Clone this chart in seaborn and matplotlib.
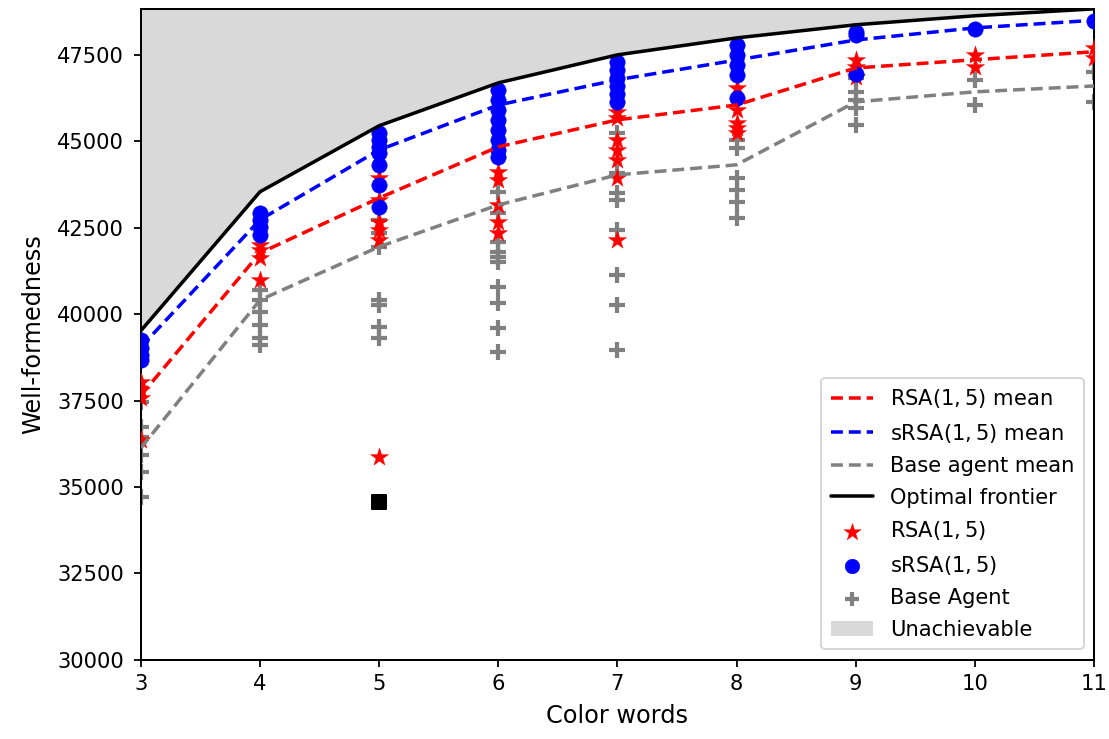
import numpy as np
import pandas as pd
import matplotlib
matplotlib.use("Agg")
import matplotlib.pyplot as plt
import seaborn as sns

# Number of colour words on the x axis
words = [3, 4, 5, 6, 7, 8, 9, 10, 11]

# Mean well-formedness per agent and the optimal frontier
rsa_mean = [37650, 41770, 43360, 44840, 45620, 46050, 47120, 47360, 47590]
srsa_mean = [39050, 42730, 44750, 46050, 46780, 47350, 47930, 48280, 48500]
base_mean = [36130, 40410, 41950, 43160, 44030, 44320, 46140, 46430, 46600]
frontier = [39520, 43540, 45450, 46690, 47500, 47990, 48370, 48630, 48830]

# Individual runs
rsa_x = [3, 3, 3, 3,
         4, 4, 4, 4,
         5, 5, 5, 5, 5, 5,
         6, 6, 6, 6, 6,
         7, 7, 7, 7, 7, 7, 7,
         8, 8, 8, 8, 8,
         9, 9, 9,
         10, 10,
         11, 11]
rsa_y = [38040, 37810, 37580, 36360,
         41990, 41860, 41630, 40990,
         43940, 43310, 42670, 42440, 42150, 35860,
         44120, 43890, 43160, 42670, 42350,
         45850, 45680, 45040, 44750, 44460, 43940, 42150,
         46550, 45910, 45530, 45390, 45240,
         47360, 47150, 46860,
         47500, 47150,
         47700, 47410]

srsa_x = [3, 3, 3, 3,
          4, 4, 4, 4,
          5, 5, 5, 5, 5, 5, 5,
          6, 6, 6, 6, 6, 6, 6, 6,
          7, 7, 7, 7, 7, 7,
          8, 8, 8, 8, 8,
          9, 9, 9,
          10,
          11]
srsa_y = [39260, 39030, 38820, 38680,
          42930, 42730, 42530, 42290,
          45240, 45040, 44840, 44670, 44320, 43740, 43100,
          46490, 46200, 45910, 45620, 45330, 45040, 44750, 44550,
          47300, 47070, 46840, 46600, 46370, 46140,
          47790, 47500, 47210, 46920, 46260,
          48170, 48080, 46950,
          48250,
          48480]

base_x = [3, 3, 3, 3, 3, 3,
          4, 4, 4, 4, 4, 4,
          5, 5, 5, 5, 5, 5, 5,
          6, 6, 6, 6, 6, 6, 6, 6, 6, 6,
          7, 7, 7, 7, 7, 7, 7, 7,
          8, 8, 8, 8, 8, 8,
          9, 9, 9, 9, 9,
          10, 10,
          11, 11]
base_y = [37460, 36740, 36450, 35930, 35440, 34720,
          40700, 40410, 40070, 39690, 39310, 39110,
          42730, 42350, 41950, 40410, 40270, 39630, 39310,
          43540, 42930, 42090, 41800, 41660, 41510, 40790, 40330, 39600, 38910,
          45240, 44090, 43510, 43310, 42440, 41140, 40270, 38970,
          45040, 44810, 43940, 43600, 43250, 42790,
          46840, 46430, 46200, 45970, 45480,
          46780, 46050,
          47010, 46140]

# Single reference point
ref_x = [5]
ref_y = [34570]

sns.set_style("ticks")
plt.rcParams.update({
    "font.family": ["DejaVu Sans"],
    "mathtext.fontset": "dejavusans",
    "text.color": "black",
    "axes.labelcolor": "black",
    "axes.edgecolor": "black",
    "xtick.color": "black",
    "ytick.color": "black",
})

fig = plt.figure(figsize=(1109 / 144, 739 / 144), dpi=144)
ax = fig.add_axes([0.127, 0.107, 0.8595, 0.881])

top = 48830
ax.fill_between(words, frontier, top, color="#d9d9d9", linewidth=0,
                label="Unachievable", zorder=0)

base_df = pd.DataFrame({"x": base_x, "y": base_y})
rsa_df = pd.DataFrame({"x": rsa_x, "y": rsa_y})
srsa_df = pd.DataFrame({"x": srsa_x, "y": srsa_y})

ax.scatter(base_df["x"], base_df["y"], marker="+", s=58, linewidths=2.1,
           color="gray", label="Base Agent", zorder=2)
sns.scatterplot(data=rsa_df, x="x", y="y", marker="*", s=90, color="red",
                edgecolor="red", linewidth=0.2, ax=ax, label="RSA$(1, 5)$", zorder=3)
sns.scatterplot(data=srsa_df, x="x", y="y", marker="o", s=60, color="blue",
                edgecolor="blue", linewidth=0.2, ax=ax, label="sRSA$(1, 5)$", zorder=4)
ax.scatter(ref_x, ref_y, marker="s", s=55, color="black", zorder=4)

line_df = pd.DataFrame({"x": words, "rsa": rsa_mean, "srsa": srsa_mean,
                        "base": base_mean, "opt": frontier})
for col, colour, lab in [("rsa", "red", "RSA$(1, 5)$ mean"),
                         ("srsa", "blue", "sRSA$(1, 5)$ mean"),
                         ("base", "gray", "Base agent mean")]:
    sns.lineplot(data=line_df, x="x", y=col, color=colour, lw=1.75, ax=ax,
                 label=lab, zorder=5)
    ax.lines[-1].set_linestyle((0, (3.4, 1.7)))
sns.lineplot(data=line_df, x="x", y="opt", color="black", lw=1.75, ax=ax,
             label="Optimal frontier", zorder=6)

ax.set_xlim(3, 11)
ax.set_ylim(30000, top)
ax.set_xticks(words)
ax.set_yticks(np.arange(30000, 48000, 2500))
ax.tick_params(labelsize=10.5, width=0.9, length=3.5, pad=3.5)
ax.tick_params(axis="y", pad=5)
for sp in ax.spines.values():
    sp.set_visible(True)
    sp.set_linewidth(1.0)
ax.set_xlabel("Color words", fontsize=12, labelpad=5)
ax.set_ylabel("Well-formedness", fontsize=12, labelpad=6)

handles, labels = ax.get_legend_handles_labels()
hmap = dict(zip(labels, handles))
order = ["RSA$(1, 5)$ mean", "sRSA$(1, 5)$ mean", "Base agent mean", "Optimal frontier",
         "RSA$(1, 5)$", "sRSA$(1, 5)$", "Base Agent", "Unachievable"]
ax.legend([hmap[k] for k in order], order, loc="lower right", fontsize=10.5,
          frameon=True, framealpha=0.8, borderpad=0.45, labelspacing=0.55,
          scatterpoints=1, handlelength=2.0, markerscale=0.95, edgecolor="#cccccc")

fig.savefig("out.png", dpi=144)
